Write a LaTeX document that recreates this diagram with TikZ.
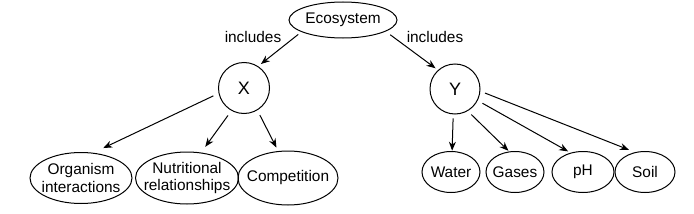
\documentclass[tikz,border=0pt]{standalone}
\usepackage{fontspec}
\setmainfont{Liberation Sans}
\usetikzlibrary{shapes.geometric,arrows.meta}
\begin{document}
\begin{tikzpicture}[x=1pt,y=-1pt,
  every node/.style={font=\fontsize{15.4}{17.5}\selectfont, align=center, inner sep=0pt},
  oval/.style={draw, ellipse, line width=1pt},
  txt/.style={label={[align=center, inner sep=0pt, font=\fontsize{15.4}{17.5}\selectfont]center:#1}},
  circ/.style={draw, circle, line width=1pt, minimum size=51pt, font=\fontsize{18}{20}\selectfont},
  lbl/.style={},
  conn/.style={line width=1pt, -{Stealth[length=9pt,width=7pt]}}]
\useasboundingbox (0,0) rectangle (694,214);
\node[oval, minimum width=108pt, minimum height=36pt, txt=Ecosystem] (eco) at (343,20) {};
\node[lbl] (inl) at (253,37) {includes};
\node[lbl] (inr) at (435,37) {includes};
\node[circ] (X) at (244,88) {X};
\node[circ, minimum size=50pt] (Y) at (455,89) {Y};
\node[oval, minimum width=102pt, minimum height=51pt, txt={Organism\\interactions}] (org) at (81,178) {};
\node[oval, minimum width=103pt, minimum height=52pt, txt={Nutritional\\relationships}] (nut) at (187,178) {};
\node[oval, minimum width=100pt, minimum height=54pt, txt=Competition] (comp) at (288,178) {};
\node[oval, minimum width=58pt, minimum height=41pt, txt=Water] (wat) at (451,172) {};
\node[oval, minimum width=58pt, minimum height=41pt, txt=Gases] (gas) at (515,172) {};
\node[oval, minimum width=62pt, minimum height=41pt, txt=pH] (ph) at (583,172) {};
\node[oval, minimum width=60pt, minimum height=41pt, txt=Soil] (soil) at (645,172) {};
\draw[conn, shorten <=4pt, shorten >=3.5pt] (eco.196) -- (X.57);
\draw[conn, shorten <=5.5pt, shorten >=3pt] (eco.-15.5) -- (Y.132);
\draw[conn, shorten <=5.8pt, shorten >=11pt] (X.192.7) -- (org.64);
\draw[conn, shorten <=5.8pt, shorten >=7pt] (X.241.8) -- (nut.61.3);
\draw[conn, shorten <=5.4pt, shorten >=3.8pt] (X.-59.3) -- (comp.110.1);
\draw[conn, shorten <=4pt, shorten >=0.3pt] (Y.266) -- (wat.87);
\draw[conn, shorten <=5pt, shorten >=0.9pt] (Y.-60) -- (gas.106);
\draw[conn, shorten <=5.4pt, shorten >=2.7pt] (Y.-27.4) -- (ph.123.7);
\draw[conn, shorten <=5pt, shorten >=6.4pt] (Y.-5.7) -- (soil.117.5);
\end{tikzpicture}
\end{document}
